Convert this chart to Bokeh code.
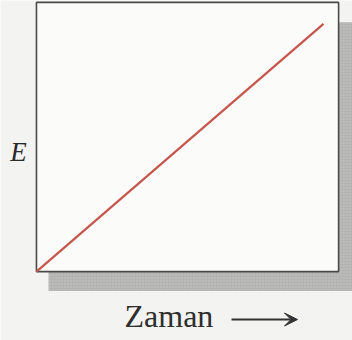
from bokeh.plotting import figure
from bokeh.models import Range1d, Label, Arrow, VeeHead
from bokeh.embed import file_html
from bokeh.resources import INLINE

# Energy rising linearly with time (arbitrary units, box spans 0..10)
time = [0.0, 9.5]
energy = [0.0, 9.2]

x_label = "Zaman"
y_label = "E"

W, H = 352, 340
p = figure(width=W, height=H, output_backend="svg", toolbar_location=None,
           x_range=Range1d(-1.19, 10.46), y_range=Range1d(-2.56, 10.07),
           min_border=0, min_border_left=0, min_border_right=0,
           min_border_top=0, min_border_bottom=0)
p.axis.visible = False
p.grid.visible = False
p.outline_line_color = None
p.background_fill_color = "#f3f3f1"
p.border_fill_color = "#f3f3f1"

# drop shadow behind the chart box
p.quad(left=0.4, right=10.6, bottom=-0.72, top=9.26,
       fill_color="#b3b3b1", line_color=None,
       hatch_pattern="dot", hatch_color="#cdcdcb", hatch_scale=3, hatch_alpha=0.8)

# chart box
p.quad(left=0, right=10, bottom=0, top=10,
       fill_color="#fbfbfa", line_color="#4a4a4a", line_width=1.6)

# the data line
p.line(time, energy, line_color="#c4564c", line_width=2.2)

p.add_layout(Label(x=18, y=H - 151, x_units="screen", y_units="screen",
                   text=y_label, text_font="Liberation Serif", text_font_style="italic",
                   text_font_size="27px", text_color="#2a2a2a", text_align="center",
                   text_baseline="middle"))
p.add_layout(Label(x=124, y=H - 315, x_units="screen", y_units="screen",
                   text=x_label, text_font="Liberation Serif",
                   text_font_size="32px", text_color="#2e2e2e", text_align="left",
                   text_baseline="middle"))
p.add_layout(Arrow(x_start=231, y_start=H - 319, x_end=297, y_end=H - 319,
                   start_units="screen", end_units="screen",
                   line_color="#333333", line_width=1.8,
                   end=VeeHead(size=13, fill_color="#333333", line_color="#333333")))

open("out.html", "w").write(file_html(p, INLINE))
